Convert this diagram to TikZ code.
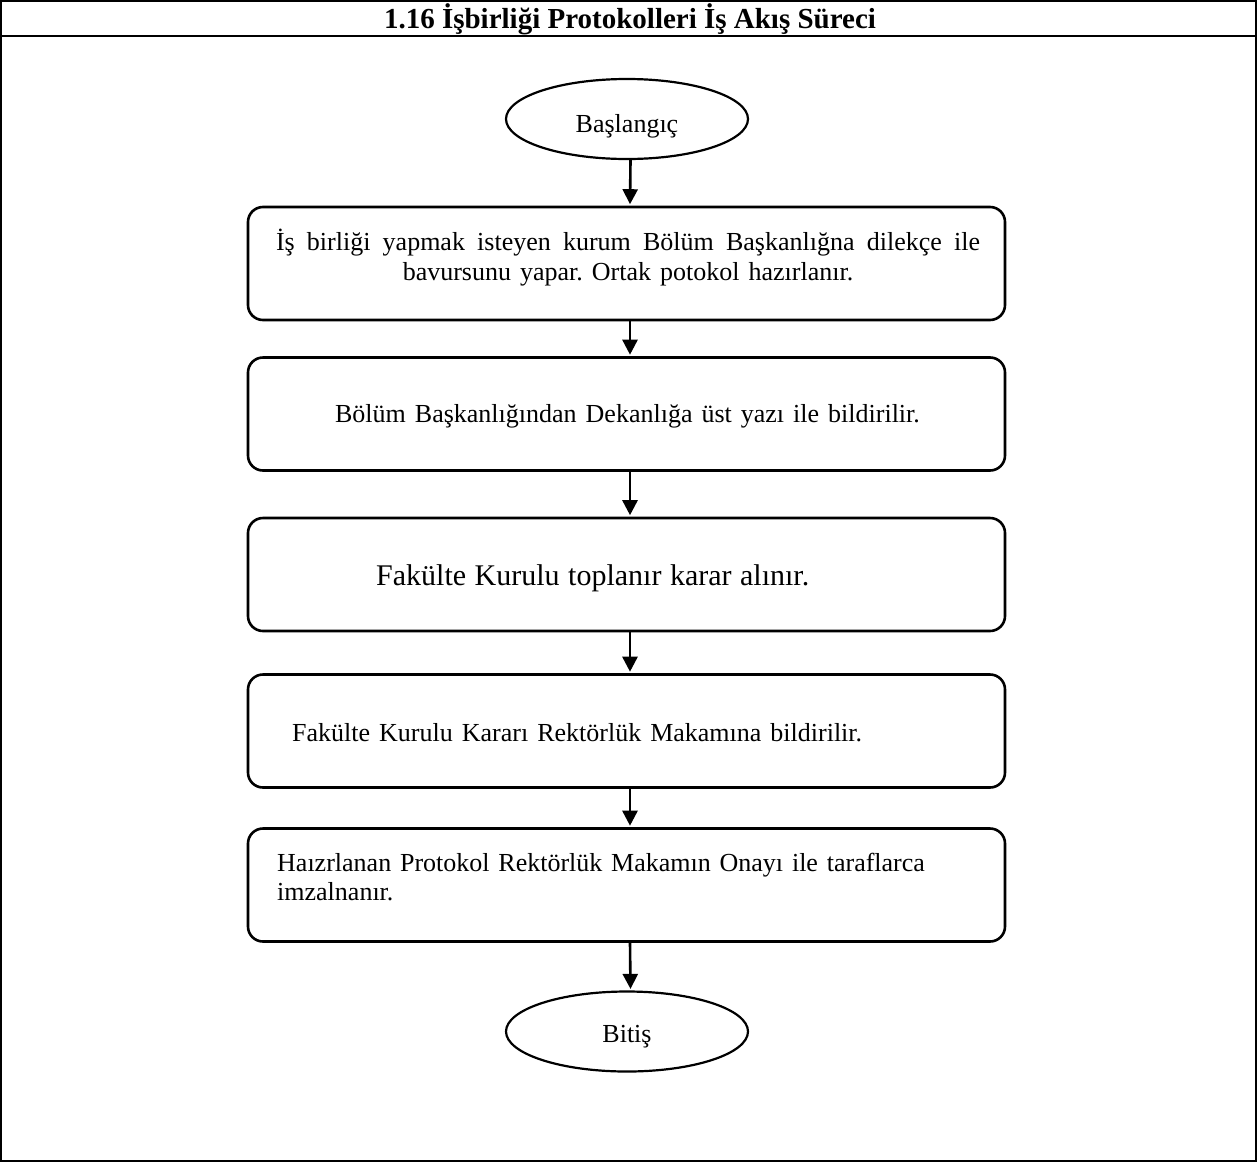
\documentclass[tikz,border=0pt]{standalone}
\usepackage{fontspec}
\setmainfont{Liberation Serif}
\usetikzlibrary{arrows.meta,shapes.geometric}
\newcommand\bodyfnt{\fontsize{26}{29.5}\selectfont\spaceskip 9pt plus 2pt minus 1pt\relax}
\newcommand\bigfnt{\fontsize{30}{35}\selectfont\spaceskip 8.5pt plus 2pt minus 1pt\relax}
\newcommand\lastfnt{\fontsize{26}{28.5}\selectfont\spaceskip 8.8pt plus 2pt minus 1pt\relax}
\begin{document}
\frenchspacing
\begin{tikzpicture}[x=1pt,y=-1pt,
  frame/.style={line width=1.6pt},
  stepbox/.style={draw,line width=2.6pt,rounded corners=15pt,minimum width=757pt,minimum height=113pt,inner sep=0pt},
  txt/.style={inner sep=0pt,font=\bodyfnt},
  term/.style={draw,ellipse,line width=2.2pt,minimum width=242pt,minimum height=80pt,inner sep=0pt,font=\fontsize{26}{31}\selectfont},
  flow/.style={line width=2.6pt,shorten >=1.5pt,-{Triangle[length=15pt,width=15pt]}}]
\useasboundingbox (0,0) rectangle (1257,1162);
\draw[frame] (1,1) rectangle (1256,1161);
\draw[frame] (1,36) -- (1256,36);
\node[font=\bfseries\fontsize{29}{33}\selectfont] (title) at (630,19) {1.16 İşbirliği Protokolleri İş Akış Süreci};
\node[term] (start) at (627,119) {\raisebox{-7pt}[\height][\depth]{Başlangıç}};
\node[stepbox] (b1) at (626.5,263.5) {};
\node[stepbox] (b2) at (626.5,414) {};
\node[stepbox] (b3) at (626.5,574.5) {};
\node[stepbox] (b4) at (626.5,731) {};
\node[stepbox] (b5) at (626.5,885) {};
\node[term] (end) at (627,1031.5) {\raisebox{-5pt}[\height][\depth]{Bitiş}};
\node[txt,align=center] (t1) at (628,257.5) {\makebox[704pt][s]{İş birliği yapmak isteyen kurum Bölüm Başkanlığna dilekçe ile}\\bavursunu yapar. Ortak potokol hazırlanır.};
\node[txt] (t2) at (627.5,416.5) {Bölüm Başkanlığından Dekanlığa üst yazı ile bildirilir.};
\node[txt,anchor=west,font=\bigfnt] (t3) at (376,578.5) {Fakülte Kurulu toplanır karar alınır.};
\node[txt,anchor=west] (t4) at (292,733) {Fakülte Kurulu Kararı Rektörlük Makamına bildirilir.};
\node[txt,anchor=west,align=left,font=\lastfnt] (t5) at (277,877) {Haızrlanan Protokol Rektörlük Makamın Onayı ile taraflarca\\imzalnanır.};
\draw[flow] ([xshift=3.5pt]start.south) -- ([xshift=3.5pt]b1.north);
\draw[flow] ([xshift=3.5pt]b1.south) -- ([xshift=3.5pt]b2.north);
\draw[flow] ([xshift=3.5pt]b2.south) -- ([xshift=3.5pt]b3.north);
\draw[flow] ([xshift=3.5pt]b3.south) -- ([xshift=3.5pt]b4.north);
\draw[flow] ([xshift=3.5pt]b4.south) -- ([xshift=3.5pt]b5.north);
\draw[flow] ([xshift=3.5pt]b5.south) -- ([xshift=3.5pt]end.north);
\end{tikzpicture}
\end{document}
